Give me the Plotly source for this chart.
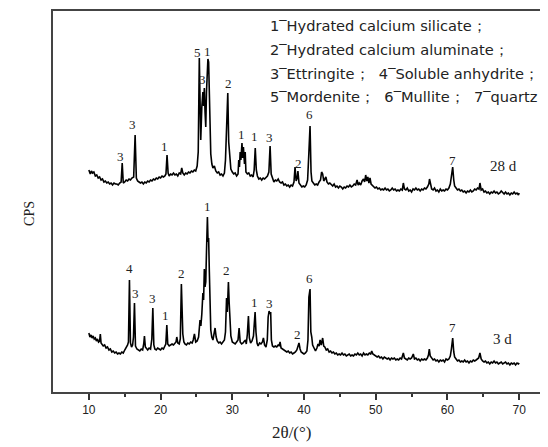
import plotly.graph_objects as go

# ---- 28 d pattern ----
x28 = [10.0,10.2,10.35,10.5,10.7,10.9,11.1,11.3,11.5,11.7,11.9,12.1,12.3,12.5,12.7,12.9,13.1,13.3,13.5,13.7,13.9,14.1,14.3,14.5,14.65,14.8,
       15.0,15.2,15.4,15.6,15.8,16.0,16.25,16.45,16.62,16.8,17.0,17.2,17.4,17.6,17.8,18.0,18.2,18.4,18.6,18.8,19.0,19.2,19.4,19.6,19.8,
       20.0,20.2,20.4,20.6,20.75,20.9,21.05,21.2,21.4,21.6,21.8,22.0,22.2,22.4,22.6,22.8,22.95,23.1,23.3,23.5,23.7,23.9,24.1,24.3,24.5,24.7,24.9,
       25.1,25.25,25.4,25.5,25.6,25.75,25.9,26.0,26.1,26.2,26.3,26.4,26.5,26.6,26.7,26.8,26.9,27.0,27.15,27.3,27.5,27.7,27.9,
       28.1,28.3,28.5,28.7,28.9,29.05,29.2,29.37,29.5,29.65,29.8,30.0,30.2,30.4,30.6,30.8,30.9,31.0,31.1,31.2,31.35,31.45,31.55,31.7,31.8,31.9,
       32.1,32.3,32.5,32.7,32.9,33.05,33.2,33.35,33.5,33.7,33.9,34.1,34.3,34.5,34.7,34.9,35.1,35.27,35.42,35.6,35.8,
       36.0,36.2,36.4,36.6,36.8,37.0,37.2,37.4,37.6,37.8,38.0,38.2,38.4,38.6,38.75,38.9,39.05,39.15,39.3,39.5,39.7,39.9,
       40.1,40.3,40.5,40.65,40.84,40.98,41.1,41.3,41.5,41.7,41.9,42.1,42.3,42.45,42.6,42.75,42.9,43.05,43.2,43.4,43.6,43.8,
       44.0,44.2,44.4,44.6,44.8,45.0,45.2,45.4,45.6,45.8,46.0,46.2,46.4,46.6,46.8,47.0,47.2,47.4,47.55,47.7,47.9,
       48.1,48.3,48.45,48.6,48.75,48.9,49.05,49.2,49.35,49.5,49.7,49.9,50.1,50.3,50.5,50.7,50.9,51.1,51.3,51.5,51.7,51.9,
       52.1,52.3,52.5,52.7,52.9,53.1,53.3,53.5,53.7,53.85,54.0,54.2,54.4,54.6,54.8,55.0,55.2,55.4,55.6,55.8,
       56.0,56.2,56.4,56.6,56.8,57.0,57.2,57.4,57.5,57.65,57.8,58.0,58.2,58.4,58.6,58.8,59.0,59.2,59.4,59.6,59.8,
       60.0,60.2,60.4,60.55,60.73,60.88,61.0,61.2,61.4,61.6,61.8,62.0,62.2,62.4,62.6,62.8,63.0,63.2,63.4,63.6,63.8,
       64.0,64.2,64.4,64.53,64.7,64.9,65.1,65.3,65.5,65.7,65.9,66.1,66.3,66.5,66.7,66.9,67.1,67.3,67.5,67.7,67.9,
       68.1,68.3,68.5,68.7,68.9,69.1,69.3,69.5,69.7,69.9,70.0]
y28 = [222,218,221,219,220,216,217,214,215,212,213,210,211,209,210,208,209,207,209,208,208,207,209,210,229,209,
       210,212,211,213,212,214,215,257,214,211,210,209,210,208,210,209,211,210,212,211,213,212,214,213,215,
       214,216,215,216,218,237,219,216,218,217,219,217,218,216,219,218,224,219,217,219,218,220,219,221,220,222,221,
       226,240,334,290,252,285,300,286,304,280,265,300,322,333,330,305,262,238,228,224,226,221,219,
       220,217,218,216,219,232,265,299,250,230,223,220,218,219,216,218,232,225,240,232,249,234,245,228,240,220,
       218,219,216,217,215,222,244,222,216,213,214,212,214,213,215,216,220,246,218,213,210,
       212,211,213,210,209,210,207,208,206,207,205,207,206,210,225,211,214,221,209,207,205,206,
       205,207,212,235,266,220,211,209,207,208,207,210,212,220,218,211,213,215,210,208,209,207,
       206,208,205,206,204,206,205,203,205,204,206,205,207,205,206,208,207,212,207,209,207,
       211,213,210,217,211,215,209,214,208,207,206,204,205,203,204,202,203,202,204,202,203,201,
       202,204,202,203,201,202,201,203,202,209,203,202,204,201,202,200,203,202,204,202,
       203,201,203,202,204,203,205,208,213,206,203,202,204,201,202,200,203,201,202,201,203,
       202,204,208,215,225,212,206,204,202,203,201,202,200,201,199,201,200,202,200,201,203,
       202,204,203,209,202,203,200,201,199,200,198,200,199,201,199,200,198,199,201,199,198,
       200,198,199,197,199,198,200,198,199,197,199]

# ---- 3 d pattern ----
x3 = [10.0,10.15,10.3,10.45,10.6,10.75,10.9,11.05,11.2,11.35,11.5,11.6,11.7,11.85,12.0,12.2,12.4,12.6,12.8,13.0,13.2,13.4,13.6,13.8,
      14.0,14.2,14.4,14.6,14.8,15.0,15.2,15.4,15.52,15.66,15.8,15.95,16.1,16.22,16.36,16.5,16.7,16.9,17.1,17.3,17.5,17.65,17.75,17.88,
      18.05,18.2,18.4,18.6,18.78,18.92,19.06,19.2,19.4,19.6,19.8,20.0,20.2,20.4,20.6,20.73,20.87,21.0,21.2,21.4,21.6,21.8,
      22.0,22.15,22.26,22.4,22.6,22.75,22.9,23.02,23.1,23.25,23.4,23.6,23.8,24.0,24.2,24.4,24.55,24.72,24.9,
      25.1,25.3,25.5,25.62,25.75,25.9,26.0,26.1,26.2,26.3,26.4,26.53,26.62,26.7,26.8,26.9,27.0,27.14,27.3,27.45,27.6,27.75,27.9,
      28.1,28.3,28.5,28.7,28.9,29.05,29.2,29.3,29.46,29.56,29.65,29.8,30.0,30.2,30.4,30.6,30.8,30.95,31.1,31.3,31.5,31.7,31.85,31.95,
      32.1,32.25,32.38,32.55,32.75,32.95,33.05,33.18,33.3,33.45,33.6,33.8,34.0,34.2,34.34,34.5,34.7,34.88,35.0,35.13,35.25,35.35,35.45,35.6,35.8,
      36.0,36.2,36.4,36.55,36.66,36.8,37.0,37.2,37.4,37.6,37.8,38.0,38.2,38.4,38.6,38.8,39.0,39.15,39.3,39.45,39.6,39.8,
      40.0,40.2,40.4,40.55,40.68,40.84,40.95,41.08,41.2,41.4,41.6,41.8,41.95,42.1,42.24,42.4,42.6,42.75,42.9,43.1,43.3,43.5,43.7,43.9,
      44.1,44.3,44.5,44.7,44.9,45.1,45.3,45.5,45.7,45.9,46.1,46.3,46.5,46.7,46.9,47.1,47.3,47.5,47.7,47.9,
      48.1,48.3,48.5,48.7,48.9,49.1,49.3,49.44,49.6,49.8,50.0,50.2,50.4,50.6,50.8,51.0,51.2,51.4,51.6,51.8,
      52.0,52.2,52.4,52.6,52.8,53.0,53.2,53.4,53.6,53.85,54.0,54.2,54.4,54.6,54.8,55.0,55.24,55.4,55.6,55.8,
      56.0,56.2,56.4,56.6,56.8,57.0,57.2,57.35,57.47,57.6,57.8,58.0,58.2,58.4,58.6,58.8,59.0,59.2,59.4,59.6,59.8,
      60.0,60.2,60.4,60.55,60.73,60.88,61.0,61.2,61.4,61.6,61.8,62.0,62.2,62.4,62.6,62.8,63.0,63.2,63.4,63.6,63.8,
      64.0,64.2,64.35,64.53,64.7,64.9,65.1,65.3,65.5,65.7,65.9,66.1,66.3,66.5,66.7,66.9,67.1,67.3,67.5,67.7,67.9,
      68.1,68.3,68.5,68.7,68.9,69.1,69.3,69.5,69.7,69.9,70.0]
y3 = [59,55,57,54,56,53,54,51,53,50,51,58,49,48,46,47,44,45,42,43,40,41,39,40,
      38,39,38,40,39,42,44,47,50,112,49,45,47,55,89,46,43,42,41,43,42,48,56,45,
      43,42,44,43,53,84,47,43,42,44,43,42,44,43,46,48,67,48,46,47,48,47,
      49,50,55,49,48,53,108,75,58,50,48,47,49,48,50,49,52,58,50,
      51,55,72,66,78,99,92,123,105,110,140,175,150,154,120,85,62,55,52,58,64,55,51,
      49,50,48,50,52,60,94,80,110,90,68,56,50,49,48,50,52,64,50,48,49,51,52,48,
      58,76,54,49,51,56,70,80,60,49,46,49,48,50,54,47,45,52,75,81,78,80,52,46,45,
      46,45,47,46,50,44,43,42,41,40,41,39,40,38,39,40,42,46,49,43,40,39,
      38,39,41,52,95,103,60,55,47,44,41,44,48,46,52,47,54,46,45,42,43,40,41,39,
      40,38,39,37,38,37,39,37,38,36,37,38,36,37,36,38,37,39,37,38,
      36,39,37,38,37,39,38,41,38,37,36,35,36,34,35,33,35,34,33,34,
      32,34,33,34,32,33,32,34,33,39,34,33,32,34,33,34,38,33,34,32,
      33,31,33,32,33,32,34,37,43,36,34,32,33,31,32,30,32,31,32,30,33,
      32,33,36,43,54,40,35,33,31,32,30,31,30,32,30,31,29,31,30,32,31,
      32,33,34,39,33,31,30,31,29,30,28,30,29,31,29,30,28,29,30,28,29,
      30,28,29,27,29,28,29,27,29,28,29]

# ---- peak labels ----
lab28_x = [14.4, 16.1, 20.6, 25.2, 25.85, 26.55, 29.45, 31.3, 33.1, 35.13, 39.3, 40.7, 60.68]
lab28_y = [236, 268, 246, 340, 313, 341, 309, 258, 256, 255, 229, 278, 232]
lab28_t = ["3", "3", "1", "5", "3", "1", "2", "1", "1", "3", "2", "6", "7"]

lab3_x = [15.62, 16.45, 18.92, 20.63, 22.86, 26.53, 29.23, 33.08, 35.13, 39.08, 40.74, 60.73]
lab3_y = [124, 99, 94, 77, 119, 186, 122, 90, 89, 58, 114, 65]
lab3_t = ["4", "3", "3", "1", "2", "1", "2", "1", "3", "2", "6", "7"]

series_names = ["28 d", "3 d"]
series_label_x = [67.8, 67.7]
series_label_y = [226, 53]

legend_lines = [
    "1‾Hydrated calcium silicate；",
    "2‾Hydrated calcium aluminate；",
    "3‾Ettringite；  4‾Soluble anhydrite；",
    "5‾Mordenite；  6‾Mullite；  7‾quartz",
]
legend_y = [367, 343, 319, 296]

fig = go.Figure()
fig.add_trace(go.Scatter(x=x28, y=y28, mode="lines", line=dict(color="black", width=1.6), showlegend=False))
fig.add_trace(go.Scatter(x=x3, y=y3, mode="lines", line=dict(color="black", width=1.6), showlegend=False))

ann = []
lab_font = dict(family="Liberation Serif", size=13, color="#222")
for xs, ys, ts in [(lab28_x, lab28_y, lab28_t), (lab3_x, lab3_y, lab3_t)]:
    for x, y, t in zip(xs, ys, ts):
        ann.append(dict(x=x, y=y, text=t, showarrow=False, xref="x", yref="y",
                        xanchor="center", yanchor="middle", font=lab_font))
for name, x, y in zip(series_names, series_label_x, series_label_y):
    ann.append(dict(x=x, y=y, text=name, showarrow=False, xref="x", yref="y",
                    xanchor="center", yanchor="middle",
                    font=dict(family="Liberation Serif", size=15, color="#222")))
for txt, y in zip(legend_lines, legend_y):
    ann.append(dict(x=35.0, y=y, xref="x", yref="y", showarrow=False, xanchor="left", yanchor="middle",
                    text=txt, font=dict(family="DejaVu Sans", size=14.6, color="#222")))
ann.append(dict(x=0.483, y=-0.105, xref="paper", yref="paper", text="2θ/(°)", showarrow=False,
                xanchor="center", yanchor="middle", font=dict(family="Liberation Serif", size=17, color="#222")))
ann.append(dict(x=-0.0465, y=0.47, xref="paper", yref="paper", text="CPS", showarrow=False, textangle=-90,
                xanchor="center", yanchor="middle", font=dict(family="Liberation Serif", size=14, color="#222")))

# page is shown with an 8 px body margin, so the figure is sized 8 px smaller
fig.update_layout(
    width=540, height=439,
    margin=dict(l=45, r=0, t=3, b=55),
    paper_bgcolor="white", plot_bgcolor="white",
    annotations=ann,
    xaxis=dict(range=[5, 74.02], showline=True, linecolor="#444", linewidth=2, mirror=True,
               showgrid=False, zeroline=False, ticks="outside", ticklen=6, tickwidth=1.5, tickcolor="#333",
               tickvals=[10, 20, 30, 40, 50, 60, 70],
               minor=dict(tickvals=[15, 25, 35, 45, 55, 65], ticks="outside", ticklen=3, tickwidth=1.5, tickcolor="#333"),
               tickfont=dict(family="Liberation Sans", size=12, color="#222")),
    yaxis=dict(range=[0, 381], showline=True, linecolor="#444", linewidth=2, mirror=False,
               showgrid=False, zeroline=False, showticklabels=False, ticks=""),
)

fig.write_html("out.html")
